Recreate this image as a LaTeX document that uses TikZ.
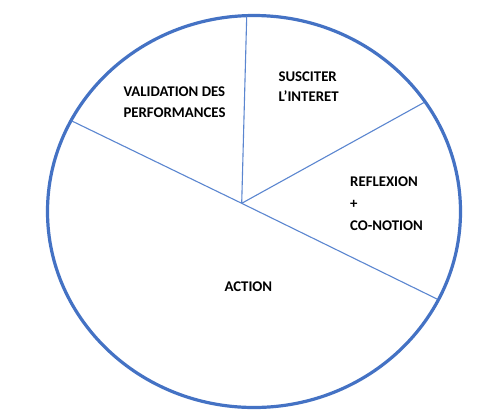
\documentclass[tikz,border=0pt]{standalone}
\usepackage{fontspec}
\setmainfont{Carlito}
\definecolor{rimblue}{HTML}{4472C4}
\definecolor{spokeblue}{HTML}{5B86D0}
\begin{document}
\begin{tikzpicture}[x=1pt,y=-1pt,
  rim/.style={draw=rimblue,line width=3.2pt},
  spoke/.style={draw=spokeblue,line width=1.1pt},
  lbl/.style={inner sep=0pt,anchor=base west,font=\fontsize{14.8}{17}\selectfont\bfseries,text=black}]
\useasboundingbox (0,0) rectangle (492,416);
\fill[white] (0,0) rectangle (492,416);
\draw[rim] (254,211.5) ellipse [x radius=206.5pt, y radius=196pt];
\coordinate (c) at (241.7,203.3);
\coordinate (top) at (246.7,16.5);
\coordinate (left) at (71.5,120.8);
\coordinate (ur) at (424,102.5);
\coordinate (lr) at (437,299);
\draw[spoke] (c) -- (top);
\draw[spoke] (c) -- (left);
\draw[spoke] (c) -- (ur);
\draw[spoke] (c) -- (lr);
\node[lbl] (v1) at (123.3,96.7) {VALIDATION DES};
\node[lbl] (v2) at (123.3,117.3) {PERFORMANCES};
\node[lbl] (s1) at (278.3,81.3) {SUSCITER};
\node[lbl] (s2) at (278.3,101.7) {L’INTERET};
\node[lbl] (r1) at (350,186.7) {REFLEXION};
\node[lbl] (r2) at (350,208.4) {+};
\node[lbl] (r3) at (350,230) {CO-NOTION};
\node[lbl] (a) at (224.3,291) {ACTION};
\end{tikzpicture}
\end{document}
